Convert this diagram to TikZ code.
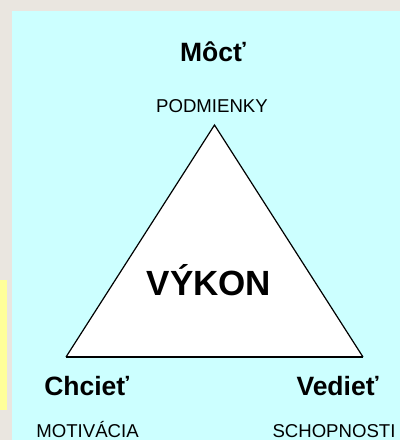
\documentclass[tikz,border=0pt]{standalone}
\usepackage{fontspec}
\setmainfont{Liberation Sans}
\definecolor{bgpaper}{RGB}{234,230,224}
\definecolor{panel}{RGB}{204,255,255}
\definecolor{strip}{RGB}{255,255,153}
\begin{document}
\begin{tikzpicture}[x=1pt,y=-1pt,
  head/.style={font=\fontsize{26.5}{30}\selectfont\bfseries, anchor=base, inner sep=0pt},
  sub/.style={font=\fontsize{18.6}{22}\selectfont, anchor=base, inner sep=0pt},
  big/.style={font=\fontsize{35}{40}\selectfont\bfseries, anchor=base, inner sep=0pt},
  edge/.style={draw=black, line width=1.2pt, line join=miter}]
\useasboundingbox (0,0) rectangle (400,440);
\fill[bgpaper] (0,0) rectangle (400,440);
\fill[strip] (0,280) rectangle (7,410);
\fill[panel] (12,11) rectangle (400,440);
\coordinate (apex) at (214.5,125);
\coordinate (bl) at (66,357);
\coordinate (br) at (363,357);
\fill[white] (apex) -- (bl) -- (br) -- cycle;
\draw[edge] (bl) -- (apex) -- (br);
\draw[draw=black, line width=2.2pt] (bl) -- (br);
\node[head] (moct) at (213,61.7) {Môcť};
\node[sub] (podm) at (212,112.3) {PODMIENKY};
\node[big] (vykon) at (209,295) {VÝKON};
\node[head] (chciet) at (86.7,395.7) {Chcieť};
\node[head] (vediet) at (337.5,395.7) {Vedieť};
\node[sub] (motiv) at (87.5,437.3) {MOTIVÁCIA};
\node[sub] (schop) at (334,437.3) {SCHOPNOSTI};
\end{tikzpicture}
\end{document}
